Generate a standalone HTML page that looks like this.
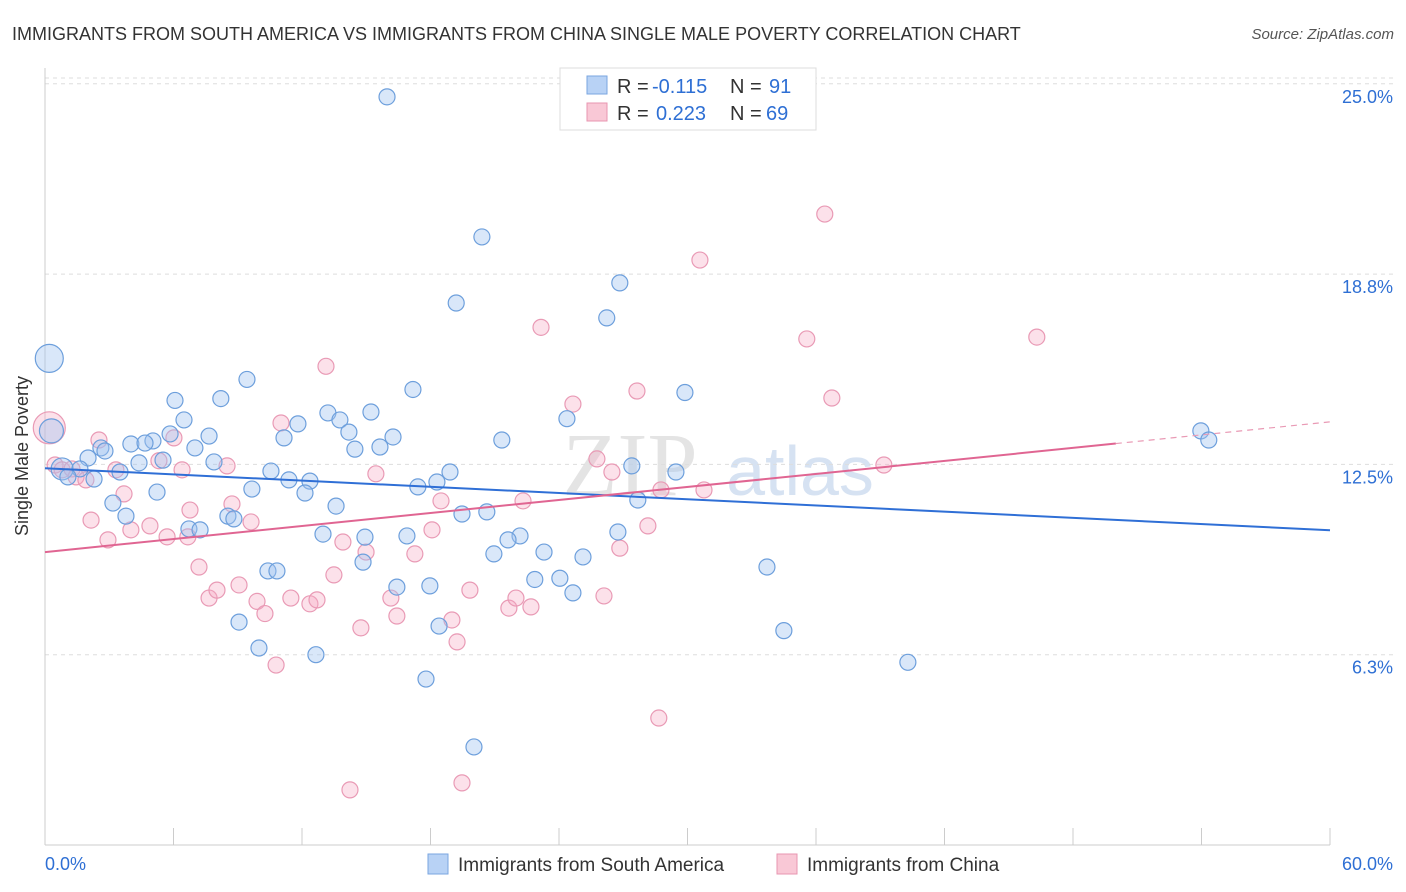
<!DOCTYPE html>
<html><head><meta charset="utf-8"><style>
body{margin:0;background:#fff;font-family:"Liberation Sans",sans-serif}
svg{display:block}
</style></head><body>
<svg id="c" width="1406" height="892">
<text x="12" y="40" font-size="18" fill="#333">IMMIGRANTS FROM SOUTH AMERICA VS IMMIGRANTS FROM CHINA SINGLE MALE POVERTY CORRELATION CHART</text>
<text x="1394" y="39" font-size="15" fill="#555" text-anchor="end" font-style="italic">Source: ZipAtlas.com</text>
<text x="630" y="495" font-size="90" fill="#e4e4e4" font-family="Liberation Serif" text-anchor="middle">ZIP</text>
<text x="800" y="495" font-size="70" fill="#d6e2f2" text-anchor="middle">atlas</text>
<g id="grid"></g><g id="axes"></g><g id="pts"></g><g id="trend"></g>
<text x="28" y="456" font-size="18" fill="#333" text-anchor="middle" transform="rotate(-90 28 456)">Single Male Poverty</text>
<g font-size="20">
<rect x="560" y="68" width="256" height="62" fill="#fff" stroke="#ddd"/>
<rect x="587" y="76" width="20" height="18" fill="#b8d2f5" stroke="#7aa6e0"/>
<text x="617" y="93" fill="#333">R =</text><text x="652" y="93" fill="#2e6fd4">-0.115</text>
<text x="730" y="93" fill="#333">N =</text><text x="769" y="93" fill="#2e6fd4">91</text>
<rect x="587" y="103" width="20" height="18" fill="#f9c8d6" stroke="#e896b0"/>
<text x="617" y="120" fill="#333">R =</text><text x="656" y="120" fill="#2e6fd4">0.223</text>
<text x="730" y="120" fill="#333">N =</text><text x="766" y="120" fill="#2e6fd4">69</text>
</g>
<g>
<rect x="428" y="854" width="20" height="20" fill="#b8d2f5" stroke="#7aa6e0"/>
<text x="458" y="871" font-size="19" fill="#333">Immigrants from South America</text>
<rect x="777" y="854" width="20" height="20" fill="#f9c8d6" stroke="#e896b0"/>
<text x="807" y="871" font-size="19" fill="#333">Immigrants from China</text>
</g>
</svg>
<script>
const xTicks=[0,10,20,30,40,50,60,70,80,90,100];
const yTicks=[6.25,12.5,18.75,25];
const yTickLabels=["6.3%","12.5%","18.8%","25.0%"];
const blueX=[0.2,0.3,0.8,15.97,20.4,19.2,26.84,26.23,17.18,29.88,9.43,6.07,8.21,6.49,5.84,5.04,4.01,4.67,7.66,2.61,2.01,2.8,1.63,1.07,2.29,3.5,4.39,5.51,7.0,7.89,5.23,3.17,3.78,6.72,7.24,8.54,8.82,9.66,10.55,11.39,12.37,12.14,11.16,11.81,13.21,13.77,14.19,14.47,15.22,15.64,16.25,13.59,12.98,14.94,14.85,16.9,17.41,18.3,18.91,19.47,20.63,21.33,24.37,27.4,29.46,27.68,26.75,23.3,25.12,22.18,21.62,20.96,22.87,24.65,24.04,17.97,16.43,18.4,17.79,20.03,10.41,10.83,9.06,9.99,12.65,33.71,34.5,40.29,53.97,54.34];
const blueY=[15.98,13.6,12.35,24.57,19.97,17.8,18.46,17.31,14.96,14.86,15.29,14.6,14.66,13.96,13.5,13.27,13.17,13.2,13.43,13.04,12.71,12.94,12.35,12.09,12.02,12.25,12.55,12.64,13.04,12.58,11.59,11.23,10.8,10.38,10.35,10.8,10.71,11.69,12.28,11.99,11.95,11.56,13.37,13.83,14.19,13.96,13.56,13.0,14.22,13.07,13.4,11.13,10.21,10.11,9.29,10.15,11.76,11.92,12.25,10.87,10.94,13.3,14.0,12.45,12.25,11.33,10.28,9.62,9.46,10.15,10.02,9.56,8.72,8.28,8.76,8.51,8.47,7.19,5.45,3.22,9.0,9.0,7.32,6.47,6.25,9.13,7.04,6.0,13.6,13.3];
const pinkX=[0.2,0.47,0.8,1.26,1.45,1.91,2.52,3.31,3.69,2.15,2.94,4.01,4.9,5.7,6.02,5.32,6.4,6.77,6.67,7.19,7.66,8.03,9.06,8.73,9.62,8.5,9.9,10.27,10.79,11.02,11.48,12.37,12.7,13.12,13.49,13.91,14.99,14.75,15.45,16.15,16.43,17.27,18.07,18.49,19.0,19.24,19.84,21.66,21.99,22.32,22.69,23.16,24.65,25.77,26.47,26.1,26.84,27.64,28.15,28.76,30.58,30.77,28.66,14.24,19.47,35.57,36.41,36.74,39.17,46.31];
const pinkY=[13.7,12.48,12.32,12.35,12.09,11.99,13.3,12.32,11.53,10.67,10.02,10.35,10.48,10.12,13.37,12.62,12.32,11.0,10.12,9.13,8.11,8.37,8.54,11.2,10.61,12.45,8.0,7.6,5.91,13.86,8.11,7.92,8.05,15.72,8.87,9.95,9.62,7.13,12.19,8.11,7.52,9.56,10.35,11.3,7.39,6.67,8.37,7.78,8.11,11.3,7.82,17.0,14.48,12.68,12.25,8.18,9.75,14.91,10.48,11.66,19.21,11.66,4.17,1.81,2.04,16.62,20.72,14.68,12.48,16.68];
const blueBig={0:14,1:12,2:11}, pinkBig={0:16};
const X0=45,X1=1330,Y0=845,ppx=(X1-X0)/60,ppy=30.45;
const sx=v=>X0+v*ppx, sy=v=>Y0-v*ppy;
const NS="http://www.w3.org/2000/svg";
function mk(p,t,a){const e=document.createElementNS(NS,t);for(const k in a)e.setAttribute(k,a[k]);p.appendChild(e);return e;}
const grid=document.getElementById('grid'),axes=document.getElementById('axes'),pts=document.getElementById('pts'),tr=document.getElementById('trend');
yTicks.forEach((v,i)=>{
 const g=mk(grid,'line',{x1:X0,x2:1394,y1:sy(v),y2:sy(v),stroke:'#ddd','stroke-dasharray':'4,4'});
 
 
 const t=mk(axes,'text',{x:1393,y:sy(v)+19,'font-size':18,fill:'#2e6fd4','text-anchor':'end'});
 t.textContent=yTickLabels[i];
 
 
});
const topGrid=mk(grid,'line',{x1:X0,x2:1394,y1:78,y2:78,stroke:'#ddd','stroke-dasharray':'4,4'});


mk(axes,'line',{x1:X0,x2:X0,y1:68,y2:Y0,stroke:'#ccc'});
mk(axes,'line',{x1:X0,x2:X1,y1:Y0,y2:Y0,stroke:'#ccc'});
for(let i=0;i<=10;i++){const x=X0+i*(X1-X0)/10;mk(axes,'line',{x1:x,x2:x,y1:828,y2:Y0,stroke:'#ccc'});}
const xl=mk(axes,'text',{x:45,y:870,'font-size':18,fill:'#2e6fd4'});xl.textContent='0.0%';


const xr=mk(axes,'text',{x:1393,y:870,'font-size':18,fill:'#2e6fd4','text-anchor':'end'});xr.textContent='60.0%';


pinkX.forEach((v,i)=>{const c=mk(pts,'circle',{cx:sx(v),cy:sy(pinkY[i]),r:pinkBig[i]||8,fill:'rgba(246,170,195,0.35)',stroke:'#e99ab5','stroke-width':1.2});
 
 });
blueX.forEach((v,i)=>{const c=mk(pts,'circle',{cx:sx(v),cy:sy(blueY[i]),r:blueBig[i]||8,fill:'rgba(160,195,240,0.4)',stroke:'#6d9fdc','stroke-width':1.2});
 
 });
function fit(xs,ys){const n=xs.length;let mx=0,my=0;xs.forEach((x,i)=>{mx+=x;my+=ys[i]});mx/=n;my/=n;let sxy=0,sxx=0;xs.forEach((x,i)=>{sxy+=(x-mx)*(ys[i]-my);sxx+=(x-mx)**2});const b=sxy/sxx;return [my-b*mx,b];}
const [ba,bb]=fit(blueX,blueY),[pa,pb]=fit(pinkX,pinkY);
let l=mk(tr,'line',{x1:sx(0),y1:sy(ba),x2:sx(60),y2:sy(ba+bb*60),stroke:'#2f6fd6','stroke-width':2});


l=mk(tr,'line',{x1:sx(0),y1:sy(pa),x2:sx(50),y2:sy(pa+pb*50),stroke:'#e06592','stroke-width':2});


l=mk(tr,'line',{x1:sx(50),y1:sy(pa+pb*50),x2:sx(60),y2:sy(pa+pb*60),stroke:'#e99ab5','stroke-width':1.2,'stroke-dasharray':'6,5'});


</script>
</body></html>
